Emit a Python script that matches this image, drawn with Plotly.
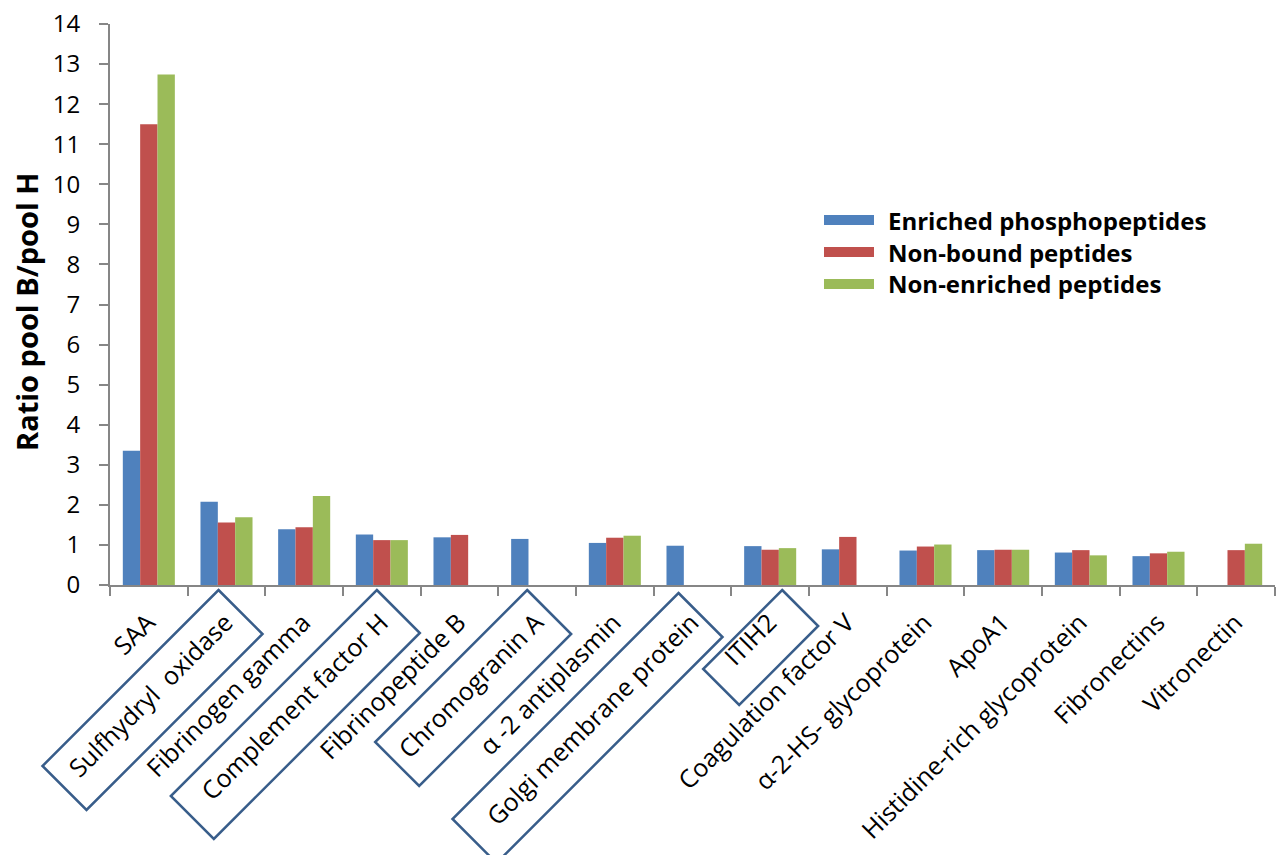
import plotly.graph_objects as go

# Proteins (x categories)
categories = [
    "SAA", "Sulfhydryl\u00a0 oxidase", "Fibrinogen gamma", "Complement factor H",
    "Fibrinopeptide B", "Chromogranin A", "\u03b1 -2 antiplasmin",
    "Golgi membrane protein", "ITIH2", "Coagulation factor V",
    "\u03b1-2-HS- glycoprotein", "ApoA1", "Histidine-rich glycoprotein",
    "Fibronectins", "Vitronectin",
]

# Ratio pool B / pool H for each fraction (None = not detected)
enriched_phospho = [3.35, 2.08, 1.39, 1.26, 1.19, 1.15, 1.05, 0.98, 0.97, 0.89,
                    0.86, 0.87, 0.81, 0.72, None]
non_bound = [11.50, 1.56, 1.44, 1.12, 1.25, None, 1.18, None, 0.88, 1.20,
             0.96, 0.88, 0.87, 0.79, 0.87]
non_enriched = [12.74, 1.69, 2.22, 1.12, None, None, 1.23, None, 0.92, None,
                1.01, 0.88, 0.74, 0.83, 1.03]

series_names = ["Enriched phosphopeptides", "Non-bound peptides", "Non-enriched peptides"]
series_values = [enriched_phospho, non_bound, non_enriched]
series_colors = ["#4F81BD", "#C0504D", "#9BBB59"]

y_title = "Ratio pool B/pool H"

# Proteins whose labels are outlined, with box geometry in pixels:
# (label, x offset of top corner, diagonal length, diagonal thickness, y offset)
boxed_labels = [
    ("Sulfhydryl\u00a0 oxidase", -8, 176, 44, -5),
    ("Complement factor H", -5, 206, 43, -5),
    ("Chromogranin A", -10, 152, 44, -5),
    ("Golgi membrane protein", -14, 226, 44, -8),
    ("ITIH2", 12, 79, 36, -5),
]

W, H = 1282, 855
ML, MR, MT, MB = 110, 7, 24, 270
PW, PH = W - ML - MR, H - MT - MB

FONT = "Open Sans"
AXIS_GREY = "#868686"


def px_to_paper(x, y):
    return (x - ML) / PW, 1 - (y - MT) / PH


fig = go.Figure()
for name, vals, col in zip(series_names, series_values, series_colors):
    fig.add_trace(go.Bar(x=categories, y=vals, name=name, marker_color=col,
                         marker_line_width=0, showlegend=False))

# Outlined category labels
n = len(categories)
shapes = []
for label, dx, length, thick, dy in boxed_labels:
    i = categories.index(label)
    tx, ty = dx, dy
    rx, ry = tx + thick, ty - thick
    lx, ly = tx - length, ty - length
    bx, by = lx + thick, ly - thick
    path = f"M{tx},{ty} L{rx},{ry} L{bx},{by} L{lx},{ly} Z"
    shapes.append(dict(
        type="path", path=path,
        xref="paper", xsizemode="pixel", xanchor=(i + 0.5) / n,
        yref="paper", ysizemode="pixel", yanchor=0,
        line=dict(color="#385D8A", width=2.5), fillcolor="rgba(0,0,0,0)",
    ))

# Legend drawn as swatches + bold labels
annotations = []
legend_x0, legend_y0, legend_dy = 824, 220, 32
for k, (name, col) in enumerate(zip(series_names, series_colors)):
    yc = legend_y0 + k * legend_dy
    x0, y0 = px_to_paper(legend_x0, yc - 5)
    x1, y1 = px_to_paper(legend_x0 + 50, yc + 5)
    shapes.append(dict(type="rect", xref="paper", yref="paper",
                       x0=x0, x1=x1, y0=y1, y1=y0,
                       fillcolor=col, line_width=0))
    tx, ty = px_to_paper(legend_x0 + 62, yc)
    annotations.append(dict(
        text=f"<b>{name}</b>", xref="paper", yref="paper", x=tx, y=ty,
        xanchor="left", yanchor="middle", showarrow=False,
        font=dict(family=FONT, size=24, color="#000000"),
    ))

# Y axis title
ttx, tty = px_to_paper(26, 312)
annotations.append(dict(
    text=f"<b>{y_title}</b>", xref="paper", yref="paper", x=ttx, y=tty,
    xanchor="center", yanchor="middle", textangle=-90, showarrow=False,
    font=dict(family=FONT, size=29, color="#000000"),
))

fig.update_layout(
    width=W, height=H,
    margin=dict(l=ML, r=MR, t=MT, b=MB, autoexpand=False),
    paper_bgcolor="white", plot_bgcolor="white",
    barmode="group", bargap=0.33, bargroupgap=0,
    font=dict(family=FONT, size=24, color="#000000"),
    shapes=shapes, annotations=annotations,
    xaxis=dict(
        type="category", tickangle=-45, tickson="boundaries",
        ticks="outside", ticklen=9, tickwidth=1.5, tickcolor=AXIS_GREY,
        showline=True, linecolor=AXIS_GREY, linewidth=2,
        showgrid=False, automargin=False,
        ticklabelstandoff=11, ticklabelshift=-1,
        tickfont=dict(family=FONT, size=25, color="#000000"),
    ),
    yaxis=dict(
        range=[0, 14], dtick=1, tick0=0,
        ticks="outside", ticklen=9, tickwidth=1.5, tickcolor=AXIS_GREY,
        showline=True, linecolor=AXIS_GREY, linewidth=2,
        showgrid=False, zeroline=False, automargin=False,
        ticklabelstandoff=14,
        tickfont=dict(family=FONT, size=24, color="#000000"),
    ),
)

fig.write_html("out.html")
